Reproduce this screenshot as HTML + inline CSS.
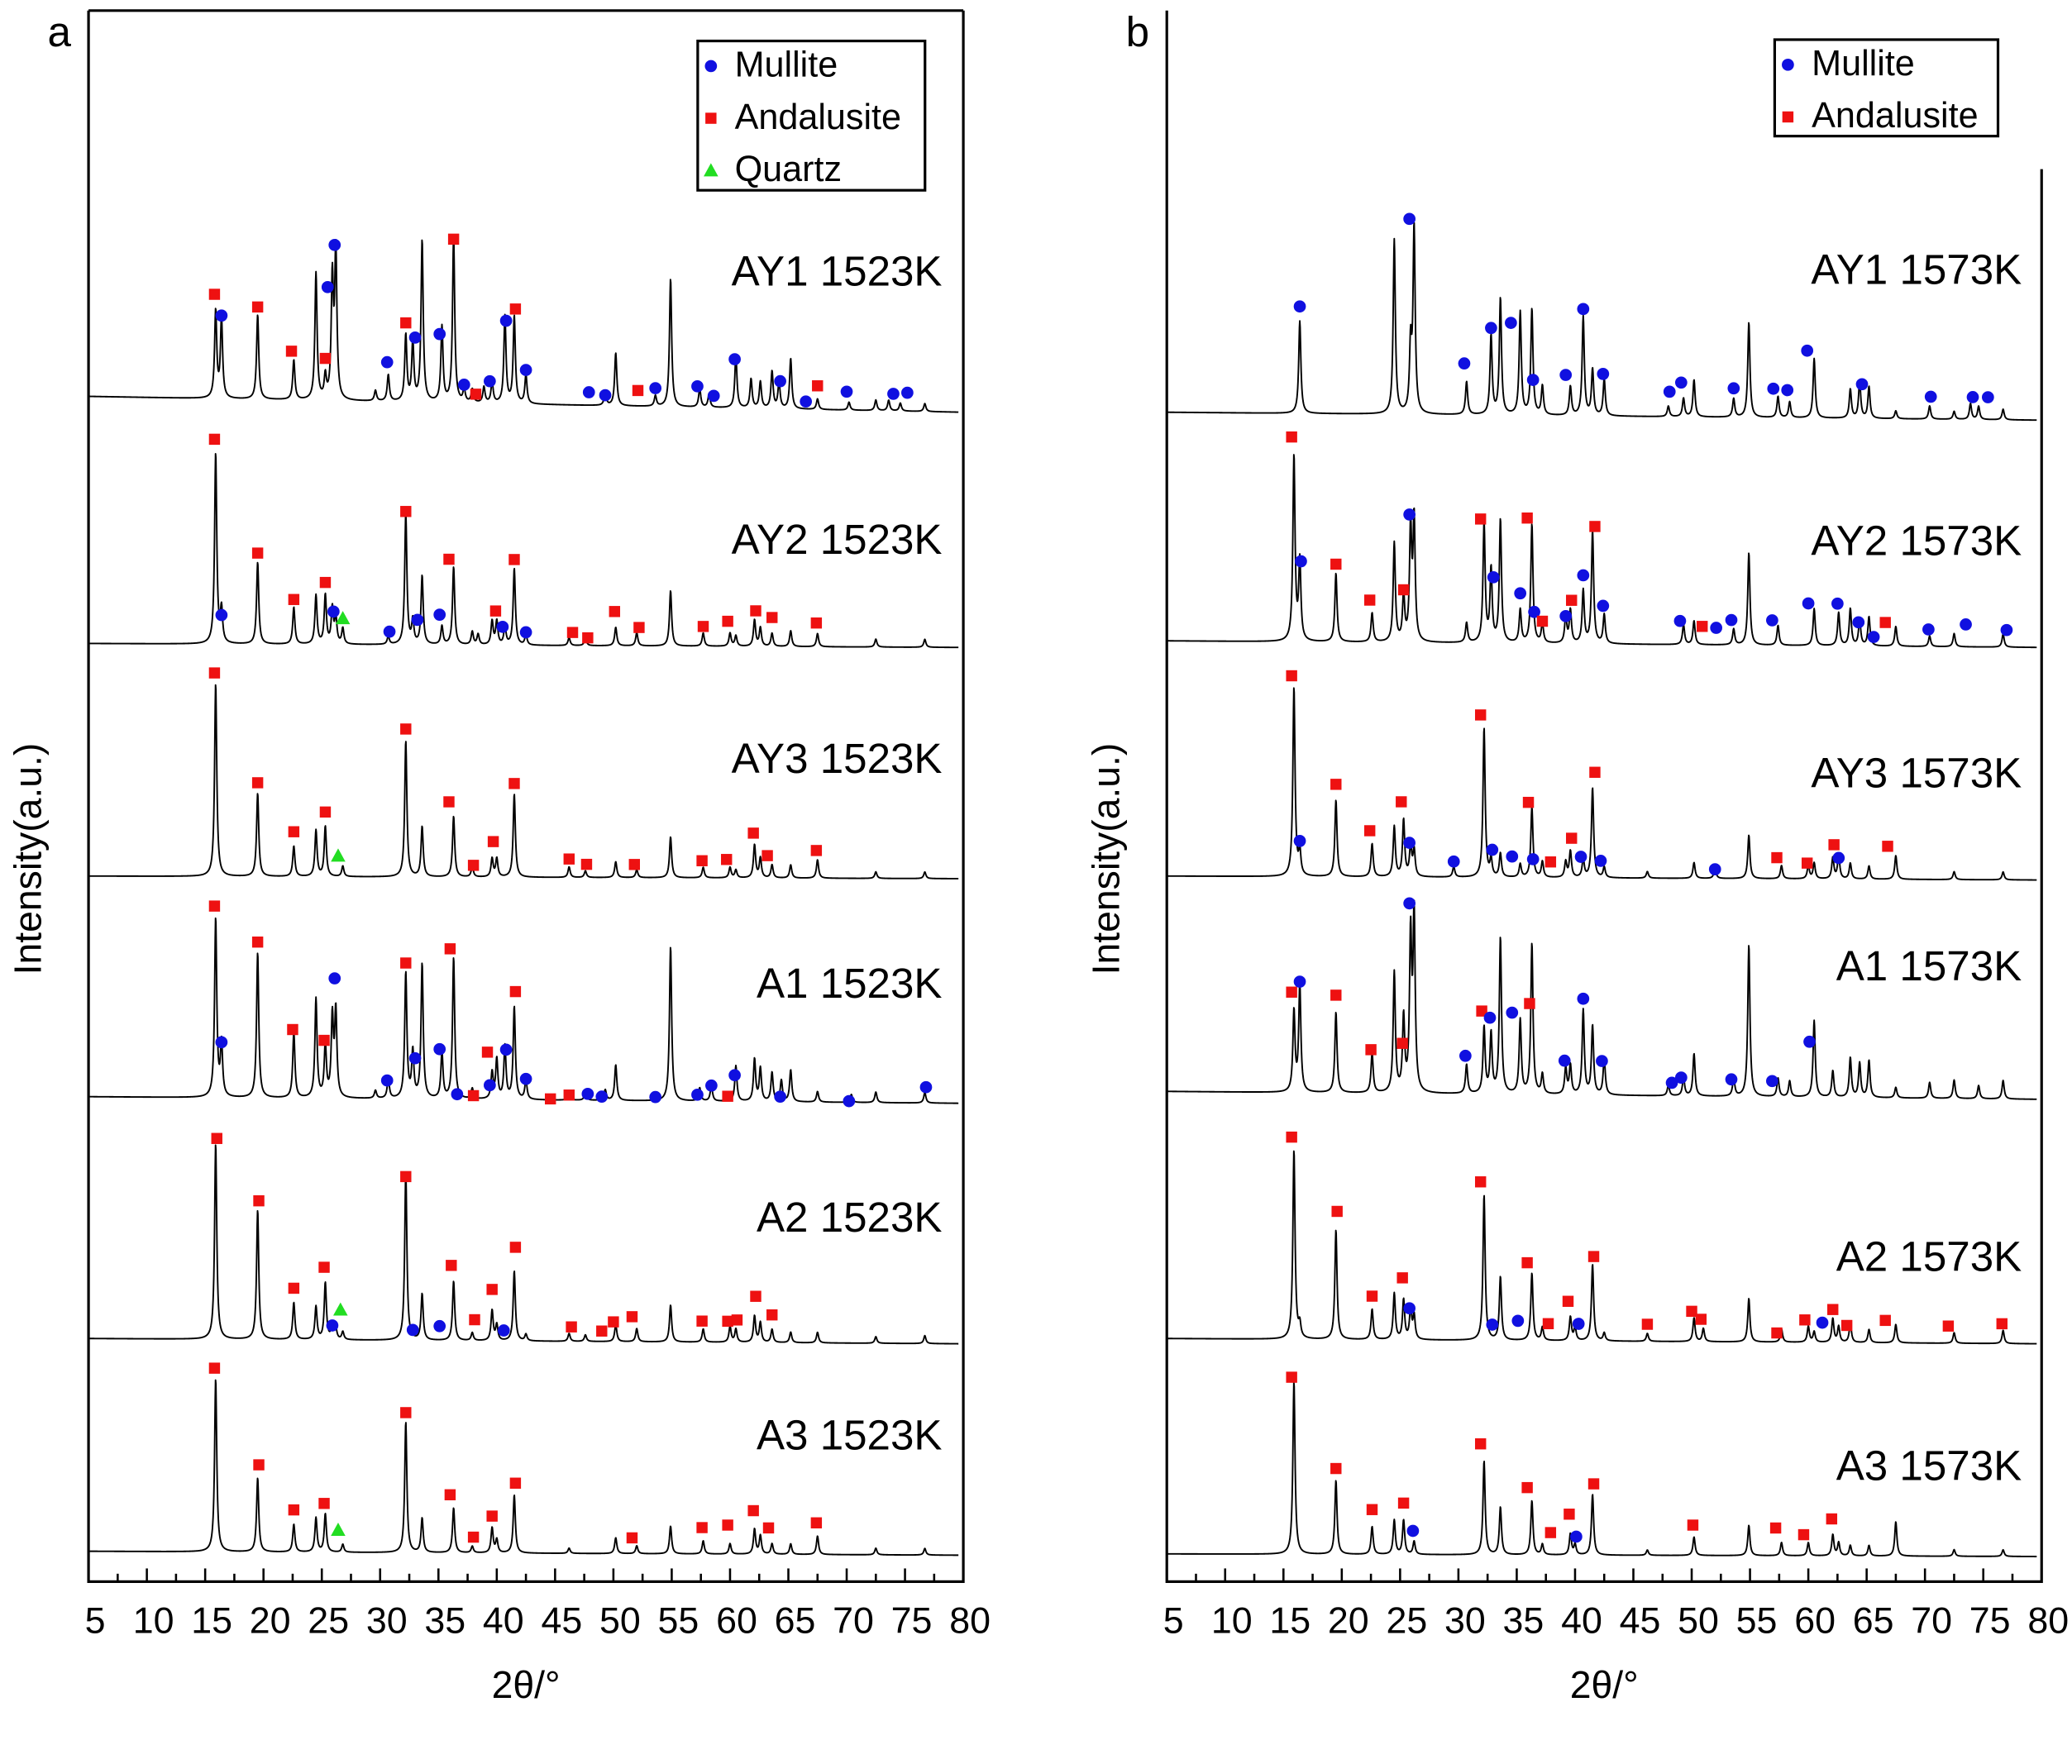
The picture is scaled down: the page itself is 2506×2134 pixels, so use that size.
<!DOCTYPE html>
<html><head><meta charset="utf-8"><style>
html,body{margin:0;padding:0;background:#fff;}
svg{display:block;}
text{font-family:"Liberation Sans",Arial,sans-serif;fill:#000;}
</style></head><body>
<svg id="chart" xmlns="http://www.w3.org/2000/svg" width="2506" height="2134" viewBox="0 0 1568 1335" preserveAspectRatio="none">
<rect x="0" y="0" width="1568" height="1335" fill="#fff"/>
<g id="panelA"></g>
<g id="panelB"></g>
</svg>
<script>
// ---------- data ----------
const xTicks = [5,10,15,20,25,30,35,40,45,50,55,60,65,70,75,80];
const patternLabelsA = ["AY1 1523K","AY2 1523K","AY3 1523K","A1 1523K","A2 1523K","A3 1523K"];
const patternLabelsB = ["AY1 1573K","AY2 1573K","AY3 1573K","A1 1573K","A2 1573K","A3 1573K"];
const baselinesA = [[300,312],[487,490],[663,665],[830,835],[1013,1017],[1174,1177]];
const baselinesB = [[312,318],[485,490],[663,666],[826,832],[1013,1017],[1176,1178]];

// peaks: [2theta, height]
const aAY1 = [[15.9,66],[16.4,60],[19.5,64],[22.6,30],[24.5,96],[25.3,17],[25.9,90],[26.2,112],[29.6,8],[30.7,20],[32.2,50],[32.8,45],[33.6,122],[35.3,57],[36.3,126],[37.2,10],[37.9,10],[38.9,12],[39.6,16],[40.7,66],[41.5,66],[42.5,22],[49.3,10],[50.2,40],[53.6,8],[54.9,97],[57.4,14],[58.2,10],[60.5,40],[61.8,22],[62.6,20],[63.6,28],[64.2,20],[65.2,38],[67.5,8],[70.2,6],[72.5,8],[73.6,8],[74.6,6],[76.7,6]];
const aAY2 = [[15.9,144],[16.4,25],[19.5,62],[22.6,28],[24.5,37],[25.3,37],[25.9,27],[26.2,20],[26.8,12],[30.7,6],[32.2,99],[32.8,18],[33.6,52],[35.3,14],[36.3,59],[37.9,10],[38.4,8],[39.6,18],[40.0,18],[40.7,14],[41.5,58],[42.5,8],[46.2,6],[47.6,6],[50.2,14],[52.0,10],[54.9,42],[57.7,10],[60.0,10],[60.5,8],[62.1,20],[62.6,14],[63.6,10],[65.2,12],[67.5,10],[72.5,6],[76.7,6]];
const aAY3 = [[15.9,146],[19.5,63],[22.6,23],[24.5,35],[25.3,38],[26.8,8],[32.2,103],[33.6,38],[36.3,46],[37.9,8],[39.6,14],[40.0,14],[41.5,63],[46.2,8],[47.6,5],[50.2,12],[52.0,6],[54.9,31],[57.7,8],[60.0,8],[60.5,6],[62.1,25],[62.6,15],[63.6,10],[65.2,10],[67.5,14],[72.5,5],[76.7,5]];
const aA1 = [[15.9,135],[16.4,40],[19.5,110],[22.6,50],[24.5,75],[25.3,40],[25.9,60],[26.2,65],[29.6,6],[30.7,15],[32.2,95],[32.8,35],[33.6,102],[35.3,35],[36.3,107],[37.9,8],[39.6,20],[40.0,30],[40.7,40],[41.5,70],[42.5,15],[46.2,6],[47.6,6],[49.3,8],[50.2,27],[54.9,117],[57.4,10],[58.4,12],[60.5,27],[62.1,32],[62.6,25],[63.6,22],[64.4,16],[65.2,24],[67.5,8],[70.4,6],[72.5,8],[76.7,8]];
const aA2 = [[15.9,148],[19.5,98],[22.6,28],[24.5,25],[25.3,43],[25.9,12],[26.2,8],[26.8,6],[32.2,128],[33.6,35],[36.3,45],[37.9,6],[39.6,23],[40.0,12],[41.5,53],[42.5,5],[46.2,6],[47.6,5],[50.2,13],[52.0,10],[54.9,28],[57.7,10],[60.0,12],[60.5,10],[62.1,20],[62.6,15],[63.6,10],[65.2,8],[67.5,8],[72.5,5],[76.7,6]];
const aA3 = [[15.9,131],[19.5,56],[22.6,21],[24.5,26],[25.3,29],[26.8,6],[32.2,99],[33.6,26],[36.3,34],[37.9,5],[39.6,19],[40.0,10],[41.5,44],[46.2,4],[50.2,12],[52.0,6],[54.9,21],[57.7,10],[60.0,8],[62.1,19],[62.6,14],[63.6,8],[65.2,8],[67.5,14],[72.5,5],[76.7,5]];
const bAY1 = [[16.4,70],[24.5,132],[25.9,50],[26.2,140],[30.7,25],[32.8,60],[33.6,88],[35.3,78],[36.3,80],[37.2,22],[39.6,22],[40.7,75],[41.5,35],[42.5,28],[48.0,8],[49.3,14],[50.2,28],[53.6,14],[54.9,72],[57.4,16],[58.4,12],[60.5,45],[63.6,22],[64.4,28],[65.2,24],[67.5,6],[70.4,10],[72.5,6],[73.9,12],[74.6,10],[76.7,8]];
const bAY2 = [[15.9,140],[16.4,60],[19.5,52],[22.6,22],[24.5,75],[25.3,35],[25.9,85],[26.2,92],[30.7,15],[32.2,90],[32.8,55],[33.6,93],[35.3,25],[36.3,90],[37.2,15],[39.2,20],[39.6,25],[40.7,40],[41.5,85],[42.5,22],[49.3,15],[50.2,18],[53.6,12],[54.9,70],[57.4,15],[60.5,28],[62.6,25],[63.6,28],[64.4,20],[65.2,22],[67.5,15],[70.4,8],[72.5,10],[76.7,10]];
const bAY3 = [[15.9,143],[16.4,18],[19.5,58],[22.6,25],[24.5,38],[25.3,43],[25.9,23],[26.2,20],[29.6,8],[32.2,113],[32.8,13],[33.6,18],[35.3,10],[36.3,53],[37.2,12],[39.2,12],[39.6,20],[40.7,14],[41.5,68],[42.5,8],[46.2,5],[50.2,12],[52.0,8],[54.9,33],[57.7,10],[60.0,10],[60.5,12],[62.1,16],[62.6,18],[63.6,12],[65.2,10],[67.5,18],[72.5,6],[76.7,6]];
const bA1 = [[15.9,61],[16.4,81],[19.5,61],[22.6,30],[24.5,91],[25.3,56],[25.9,116],[26.2,133],[30.7,22],[32.2,50],[32.8,45],[33.6,118],[35.3,56],[36.3,114],[37.2,15],[39.2,20],[39.6,22],[40.7,64],[41.5,52],[42.5,28],[48.0,8],[49.3,14],[50.2,32],[53.6,14],[54.9,115],[57.4,14],[58.4,12],[60.5,58],[62.1,20],[63.6,30],[64.4,26],[65.2,28],[67.5,8],[70.4,12],[72.5,14],[74.6,10],[76.7,14]];
const bA2 = [[15.9,143],[16.4,10],[19.5,83],[22.6,23],[24.5,35],[25.3,30],[25.9,23],[26.2,18],[32.2,110],[33.6,48],[36.3,51],[37.2,10],[39.6,18],[40.0,10],[41.5,58],[42.5,6],[46.2,6],[50.2,18],[51.0,10],[54.9,33],[57.7,10],[60.0,12],[60.5,8],[62.1,18],[62.6,12],[63.6,15],[65.2,10],[67.5,14],[72.5,8],[76.7,10]];
const bA3 = [[15.9,131],[19.5,56],[22.6,21],[24.5,26],[25.3,26],[26.2,10],[32.2,71],[33.6,36],[36.3,41],[37.2,8],[39.6,16],[40.0,8],[41.5,46],[46.2,4],[50.2,14],[54.9,23],[57.7,10],[60.0,10],[62.1,16],[62.6,10],[63.6,8],[65.2,8],[67.5,26],[72.5,5],[76.7,5]];

// markers: [phase, 2theta, height above baseline]  (M mullite, A andalusite, Q quartz)
const mkAY1a = [["A",15.8,79],["M",16.4,63],["A",19.5,70],["A",22.4,37],["M",25.5,86],["A",25.3,32],["M",26.1,118],["M",30.6,30],["A",32.2,60],["M",33.0,49],["M",35.1,52],["A",36.3,124],["M",37.2,14],["A",38.2,7],["M",39.4,17],["M",40.8,63],["A",41.6,72],["M",42.5,26],["M",47.9,10],["M",49.3,8],["A",52.1,12],["M",53.6,14],["M",57.2,16],["M",58.6,9],["M",60.4,37],["M",64.3,21],["M",66.5,6],["A",67.5,18],["M",70.0,14],["M",74.0,13],["M",75.2,14]];
const mkAY2a = [["A",15.8,155],["M",16.4,22],["A",19.5,69],["A",22.6,34],["A",25.3,47],["M",26.0,25],["Q",26.8,20],["M",30.8,10],["A",32.2,101],["M",33.2,19],["M",35.1,23],["A",35.9,65],["A",39.9,26],["M",40.5,14],["A",41.5,65],["M",42.5,10],["A",46.5,10],["A",47.8,6],["A",50.1,26],["A",52.2,14],["A",57.7,15],["A",59.8,19],["A",62.2,27],["A",63.6,22],["A",67.4,18]];
const mkAY3a = [["A",15.8,154],["A",19.5,71],["A",22.6,34],["A",25.3,49],["Q",26.4,16],["A",32.2,112],["A",35.9,57],["A",38.0,9],["A",39.7,27],["A",41.5,71],["A",46.2,14],["A",47.7,10],["A",51.8,10],["A",57.6,13],["A",59.7,14],["A",62.0,34],["A",63.2,17],["A",67.4,21]];
const mkA1a = [["A",15.8,145],["M",16.4,42],["A",19.5,118],["A",22.5,52],["A",25.2,44],["M",26.1,91],["M",30.6,14],["A",32.2,103],["M",33.0,31],["M",35.1,38],["A",36.0,114],["M",36.6,4],["A",38.0,3],["A",39.2,36],["M",39.4,11],["M",40.8,38],["A",41.6,82],["M",42.5,16],["A",44.6,1],["A",46.2,4],["M",47.8,5],["M",49.0,3],["M",53.6,3],["M",57.2,5],["M",58.4,12],["A",59.8,4],["M",60.4,20],["M",64.3,4],["M",70.2,1],["M",76.8,12]];
const mkA2a = [["A",16.0,152],["A",19.6,105],["A",22.6,39],["A",25.2,55],["M",25.9,11],["Q",26.6,23],["M",32.8,8],["A",32.2,124],["M",35.1,11],["A",36.1,57],["A",38.1,16],["A",39.6,39],["M",40.6,8],["A",41.6,71],["A",46.4,11],["A",49.0,8],["A",50.0,15],["A",51.6,19],["A",57.6,16],["A",59.8,16],["A",60.6,17],["A",62.2,35],["A",63.6,21]];
const mkA3a = [["A",15.8,139],["A",19.6,66],["A",22.6,32],["A",25.2,37],["Q",26.4,17],["A",32.2,106],["A",36.0,44],["A",38.0,12],["A",39.6,28],["A",41.6,53],["A",51.6,12],["A",57.6,20],["A",59.8,22],["A",62.0,33],["A",63.3,20],["A",67.4,24]];
const mkAY1b = [["M",16.4,81],["M",25.8,148],["M",30.5,39],["M",32.8,66],["M",34.5,70],["M",36.4,27],["M",39.2,31],["M",40.7,81],["M",42.4,32],["M",48.1,19],["M",49.1,26],["M",53.6,22],["M",57.0,22],["M",58.2,21],["M",59.9,51],["M",64.6,26],["M",70.5,17],["M",74.1,17],["M",75.4,17]];
const mkAY2b = [["A",15.7,155],["M",16.5,61],["A",19.5,59],["A",22.4,32],["A",25.3,40],["M",25.8,97],["A",31.9,94],["M",33.0,50],["A",35.9,95],["M",35.3,38],["M",36.5,24],["A",37.2,17],["M",39.2,21],["A",39.7,33],["M",40.7,52],["A",41.7,89],["M",42.4,29],["M",49.0,18],["A",50.9,14],["M",52.1,13],["M",53.4,19],["M",56.9,19],["M",60.0,32],["M",62.5,32],["M",64.3,18],["M",65.6,7],["A",66.6,18],["M",70.3,13],["M",73.5,17],["M",77.0,13]];
const mkAY3b = [["A",15.7,152],["M",16.4,27],["A",19.5,70],["A",22.4,35],["A",25.1,57],["M",25.8,26],["M",29.6,12],["A",31.9,123],["M",32.9,21],["M",34.6,16],["A",36.0,57],["M",36.4,14],["A",37.9,12],["A",39.7,30],["M",40.5,16],["A",41.7,80],["M",42.2,13],["M",52.0,7],["A",57.3,16],["A",59.9,12],["A",62.2,26],["M",62.6,16],["A",66.8,25]];
const mkA1b = [["A",15.7,76],["M",16.4,84],["A",19.5,74],["A",22.5,33],["A",25.2,38],["M",25.8,144],["M",30.6,29],["A",32.0,63],["M",32.7,58],["M",34.6,62],["A",36.1,69],["M",39.1,26],["M",40.7,73],["M",42.3,26],["M",48.3,10],["M",49.1,14],["M",53.4,13],["M",56.9,12],["M",60.1,42]];
const mkA2b = [["A",15.7,153],["A",19.6,97],["A",22.6,33],["A",25.2,47],["M",25.8,24],["M",32.9,12],["A",31.9,120],["M",35.1,15],["A",35.9,59],["A",37.7,13],["A",39.4,30],["M",40.3,13],["A",41.6,64],["A",46.2,13],["A",50.0,23],["A",50.8,17],["A",57.3,7],["A",59.7,17],["M",61.2,15],["A",62.1,25],["A",63.3,13],["A",66.6,17],["A",72.0,13],["A",76.6,15]];
const mkA3b = [["A",15.7,134],["A",19.5,65],["A",22.6,34],["A",25.3,39],["M",26.1,18],["A",31.9,84],["A",35.9,51],["A",37.9,17],["A",39.5,31],["M",40.1,14],["A",41.6,54],["A",50.1,23],["A",57.2,21],["A",59.6,16],["A",62.0,28]];

const peaksA = [aAY1,aAY2,aAY3,aA1,aA2,aA3];
const peaksB = [bAY1,bAY2,bAY3,bA1,bA2,bA3];
const marksA = [mkAY1a,mkAY2a,mkAY3a,mkA1a,mkA2a,mkA3a];
const marksB = [mkAY1b,mkAY2b,mkAY3b,mkA1b,mkA2b,mkA3b];

// ---------- layout ----------
const NS = "http://www.w3.org/2000/svg";
const PLOT_TOP = 8, PLOT_BOT = 1197;
function mk(tag, attrs, parent){ const e=document.createElementNS(NS,tag); for(const k in attrs) e.setAttribute(k,attrs[k]); parent.appendChild(e); return e; }
function makeX(left,right){ return v => left + (v-5)*(right-left)/75; }

function drawPanel(g, left, right, letter, peaks, marks, bases, labels, labelX, labelYs, legendItems, legendBox, drawTop){
  const x = makeX(left,right);
  const frame = mk("path",{d:(drawTop?`M${left},${PLOT_TOP}H${right}`:`M${right},${PLOT_TOP+120}`)+`M${left},${PLOT_TOP}V${PLOT_BOT}H${right}V${PLOT_TOP+ (drawTop?0:120)}`,fill:"none",stroke:"#000","stroke-width":2},g);
  
  
  for(let v=5; v<=80; v+=2.5){
    const major = Math.abs(v%5)<1e-6;
    const t = mk("line",{x1:x(v),x2:x(v),y1:PLOT_BOT,y2:PLOT_BOT-(major?10:6),stroke:"#000","stroke-width":1.6},g);
    
    
  }
  xTicks.forEach(v=>{
    const tl = mk("text",{x:x(v)+5,y:1236,"font-size":28,"text-anchor":"middle"},g);
    tl.textContent = v;
    
    
  });
  const xt = mk("text",{x:(left+right)/2,y:1285,"font-size":29,"text-anchor":"middle"},g);
  xt.textContent = "2θ/°";
  
  
  const yt = mk("text",{x:0,y:0,"font-size":29,"text-anchor":"middle",transform:`translate(${left-36},650) rotate(-90)`},g);
  yt.textContent = "Intensity(a.u.)";
  
  
  const pl = mk("text",{x:left-31,y:35,"font-size":32},g);
  pl.textContent = letter;
  
  

  peaks.forEach((pk,i)=>{
    const [b0,b1] = bases[i];
    const base = v => b0 + (b1-b0)*(v-5)/75;
    const gam = 0.11;
    let d = "";
    for(let v=5.0; v<=79.6; v+=0.03){
      let s=0;
      for(const [p,h] of pk){ const u=(v-p)/gam; s += h/(1+u*u); }
      d += (d?"L":"M")+x(v).toFixed(2)+","+(base(v)-s).toFixed(2);
    }
    const path = mk("path",{d:d,fill:"none",stroke:"#000","stroke-width":1.2,"stroke-linejoin":"round"},g);
    
    
    const lab = mk("text",{x:labelX,y:labelYs[i],"font-size":32,"text-anchor":"end"},g);
    lab.textContent = labels[i];
    
    
    marks[i].forEach(([t,p,h])=>{
      drawMarker(g,t,x(p),base(p)-h);
    });
  });
  const lr = mk("rect",{x:legendBox[0],y:legendBox[1],width:legendBox[2],height:legendBox[3],fill:"#fff",stroke:"#000","stroke-width":2},g);
  
  
  legendItems.forEach((it,k)=>{
    const yy = legendBox[1]+23+k*39.5;
    drawMarker(g,it[0],legendBox[0]+10,yy-4);
    const lt = mk("text",{x:legendBox[0]+28,y:yy+4,"font-size":27},g);
    lt.textContent = it[1];
    
    
  });
}
function drawMarker(g,t,cx,cy){
  let m;
  if(t==="M"){ m = mk("circle",{cx:cx,cy:cy,r:4.6,fill:"#1010e0"},g);  }
  else if(t==="A"){ m = mk("rect",{x:cx-4.2,y:cy-4.2,width:8.4,height:8.4,fill:"#ee1111"},g);  }
  else { m = mk("polygon",{points:`${cx},${cy-5.5} ${cx-5.5},${cy+4.5} ${cx+5.5},${cy+4.5}`,fill:"#22dd22"},g);  }
  
}

drawPanel(document.getElementById("panelA"),67,729,"a",peaksA,marksA,baselinesA,patternLabelsA,713,[216,419,585,755,932,1097],
  [["M","Mullite"],["A","Andalusite"],["Q","Quartz"]],[528,31,172,113],true);
drawPanel(document.getElementById("panelB"),883,1545,"b",peaksB,marksB,baselinesB,patternLabelsB,1530,[215,420,596,742,962,1120],
  [["M","Mullite"],["A","Andalusite"]],[1343,30,169,73],false);
</script>
</body></html>
